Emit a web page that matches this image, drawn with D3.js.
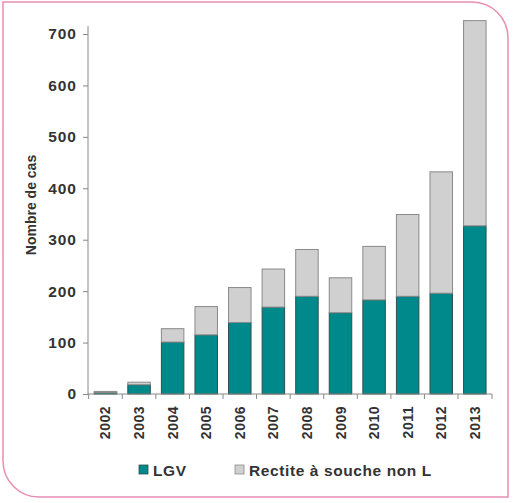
<!DOCTYPE html>
<html>
<head>
<meta charset="utf-8">
<script src="https://d3js.org/d3.v7.min.js"></script>
<style>
  body { margin: 0; background: #fff; }
  svg { display: block; font-family: "Liberation Sans", Arial, sans-serif; }
</style>
</head>
<body>
<div id="chart"></div>
<script>
// data
var years = ["2002", "2003", "2004", "2005", "2006", "2007", "2008", "2009", "2010", "2011", "2012", "2013"];
var lgv = [3, 18, 101, 115, 139, 169, 190, 158, 183, 190, 196, 327];
var autres = [2, 5, 26, 55, 68, 74, 91, 68, 104, 159, 236, 399];
var yTicks = [0, 100, 200, 300, 400, 500, 600, 700];
var seriesNames = ["LGV", "Rectite à souche non L"];
var seriesColors = ["#00898a", "#d0d0d0"];

var W = 514, H = 503;
var margin = {top: 20, right: 22, bottom: 109, left: 88};

var svg = d3.select("#chart")
  .append("svg")
  .attr("width", W)
  .attr("height", H);

// pink frame, rounded on top-right and bottom-left
var fx0 = 3, fy0 = 2, fx1 = 508, fy1 = 497, r = 36;
svg.append("path")
  .attr("d", "M" + fx0 + "," + fy0 +
    " H" + (fx1 - r) +
    " A" + r + "," + r + " 0 0 1 " + fx1 + "," + (fy0 + r) +
    " V" + fy1 +
    " H" + (fx0 + r) +
    " A" + r + "," + r + " 0 0 1 " + fx0 + "," + (fy1 - r) +
    " Z")
  .attr("fill", "#fff")
  .attr("stroke", "#e98db2")
  .attr("stroke-width", 1.5);

var g = svg.append("g")
  .attr("transform", "translate(" + margin.left + "," + margin.top + ")");

var width = W - margin.left - margin.right,
    height = 394 - margin.top;

var x = d3.scaleBand()
  .domain(years)
  .range([0.7, width - 0.4])
  .paddingInner(0.33)
  .paddingOuter(0.165);

var y = d3.scaleLinear()
  .domain([0, 700])
  .range([height, height - 360]);

// stacked data
var rows = years.map(function(yr, i) {
  return {year: yr, lgv: lgv[i], autres: autres[i]};
});
var stack = d3.stack().keys(["lgv", "autres"])(rows);

g.selectAll("g.serie")
  .data(stack)
  .join("g")
  .attr("class", "serie")
  .attr("fill", function(d, i) { return seriesColors[i]; })
  .attr("stroke", function(d, i) { return i == 0 ? "#2f4f4f" : "#8a8a8a"; })
  .attr("stroke-width", 1)
  .selectAll("rect")
  .data(function(d) { return d; })
  .join("rect")
  .attr("x", function(d) { return x(d.data.year); })
  .attr("y", function(d) { return y(d[1]); })
  .attr("width", x.bandwidth())
  .attr("height", function(d) { return y(d[0]) - y(d[1]); });

// y axis
var yAxis = g.append("g")
  .call(d3.axisLeft(y).tickValues(yTicks).tickSize(5).tickSizeOuter(0).tickPadding(6));
yAxis.select(".domain").attr("stroke", "#888").attr("d", "M0," + height + "V" + (y(700) - 8));
yAxis.selectAll(".tick line").attr("stroke", "#888");
yAxis.selectAll(".tick text")
  .attr("font-size", 15.5)
  .attr("letter-spacing", 1)
  .attr("font-weight", "bold")
  .attr("fill", "#333");

// x axis, ticks between the bars
var xAxis = g.append("g")
  .attr("transform", "translate(0," + height + ")");
xAxis.append("line")
  .attr("x1", 0).attr("x2", width)
  .attr("stroke", "#888");
var step = x.step();
xAxis.selectAll("line.tk")
  .data(d3.range(years.length + 1))
  .join("line")
  .attr("class", "tk")
  .attr("x1", function(i) { return i == years.length ? width : x(years[0]) - (step - x.bandwidth()) / 2 + i * step; })
  .attr("x2", function(i) { return i == years.length ? width : x(years[0]) - (step - x.bandwidth()) / 2 + i * step; })
  .attr("y1", 0).attr("y2", 5)
  .attr("stroke", "#888");
xAxis.selectAll("text")
  .data(years)
  .join("text")
  .attr("transform", function(d) {
    return "translate(" + (x(d) + x.bandwidth() / 2 + 5) + ",12) rotate(-90)";
  })
  .attr("text-anchor", "end")
  .attr("font-size", 14)
  .attr("letter-spacing", 0.5)
  .attr("font-weight", "bold")
  .attr("fill", "#333")
  .text(function(d) { return d; });

// y title
svg.append("text")
  .attr("transform", "translate(36,205) rotate(-90)")
  .attr("text-anchor", "middle")
  .attr("font-size", 14)
  .attr("font-weight", "bold")
  .attr("fill", "#333")
  .text("Nombre de cas");

// legend
var legX = [139, 235];
var leg = svg.selectAll("g.leg")
  .data(seriesNames)
  .join("g")
  .attr("class", "leg")
  .attr("transform", function(d, i) { return "translate(" + legX[i] + ",465)"; });
leg.append("rect")
  .attr("width", 9).attr("height", 9)
  .attr("fill", function(d, i) { return seriesColors[i]; })
  .attr("stroke", function(d, i) { return i == 0 ? "#2f4f4f" : "#8a8a8a"; })
  .attr("stroke-width", 0.8);
leg.append("text")
  .attr("x", 14)
  .attr("y", 10.5)
  .attr("font-size", 15.5)
  .attr("letter-spacing", 0.6)
  .attr("font-weight", "bold")
  .attr("fill", "#333")
  .text(function(d) { return d; });
</script>
</body>
</html>
